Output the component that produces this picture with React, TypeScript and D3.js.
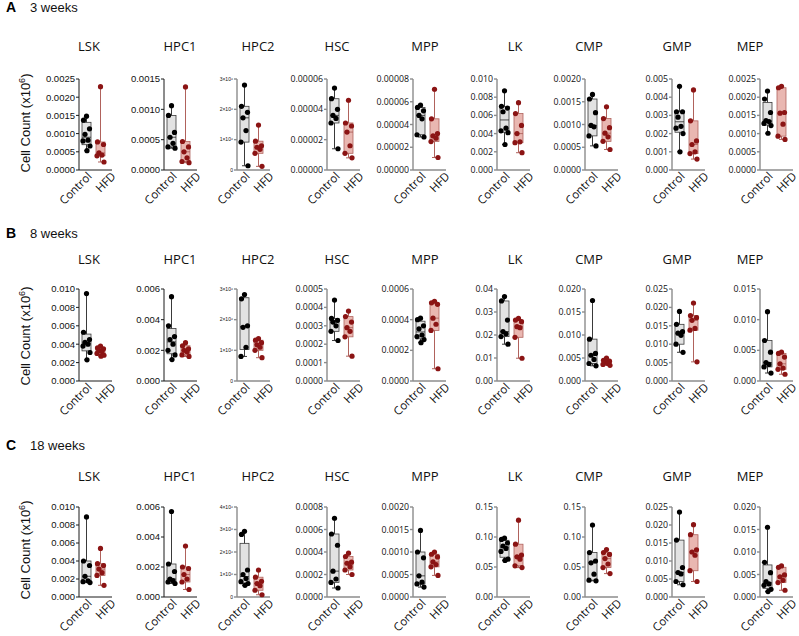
import * as d3 from "d3";

const cellTypes = ["LSK", "HPC1", "HPC2", "HSC", "MPP", "LK", "CMP", "GMP", "MEP"];
const groups = ["Control", "HFD"];
const rowLetters = ["A", "B", "C"];
const rowNames = ["3 weeks", "8 weeks", "18 weeks"];

// y axis max and tick step for every cell type, one list per time point
const yMaxW3 = [0.0025, 0.0015, 3e6, 0.00006, 0.00008, 0.01, 0.002, 0.005, 0.0025];
const yStepW3 = [0.0005, 0.0005, 1e6, 0.00002, 0.00002, 0.002, 0.0005, 0.001, 0.0005];
const yMaxW8 = [0.01, 0.006, 3e6, 0.0005, 0.0006, 0.04, 0.02, 0.025, 0.015];
const yStepW8 = [0.002, 0.002, 1e6, 0.0001, 0.0002, 0.01, 0.005, 0.005, 0.005];
const yMaxW18 = [0.01, 0.006, 4e6, 0.0008, 0.002, 0.15, 0.15, 0.025, 0.02];
const yStepW18 = [0.002, 0.002, 1e6, 0.0002, 0.0005, 0.05, 0.05, 0.005, 0.005];

// cell counts, one list per cell type (same order as cellTypes)
const controlW3 = [
  [0.00148, 0.00137, 0.00113, 0.00098, 0.00082, 0.0008, 0.00066, 0.00053],
  [0.00106, 0.0009, 0.00062, 0.00054, 0.00044, 0.00038, 0.00036],
  [2.8e6, 2.1e6, 1.9e6, 1.72e6, 1.3e6, 0.92e6, 0.14e6],
  [5.4e-5, 4.7e-5, 4.0e-5, 3.6e-5, 3.4e-5, 3.1e-5, 1.4e-5],
  [5.7e-5, 5.5e-5, 5.2e-5, 4.8e-5, 4.5e-5, 3.1e-5, 2.9e-5],
  [0.0087, 0.007, 0.0068, 0.0064, 0.0046, 0.0043, 0.0041, 0.0028],
  [0.00166, 0.00156, 0.00126, 0.00098, 0.00095, 0.00075, 0.00053],
  [0.0046, 0.0032, 0.0032, 0.0029, 0.0024, 0.0023, 0.002, 0.001],
  [0.00217, 0.00195, 0.00158, 0.00136, 0.00133, 0.00128, 0.00122, 0.00101],
];
const hfdW3 = [
  [0.00229, 0.00077, 0.0007, 0.00047, 0.00041, 0.00039, 0.00022],
  [0.00137, 0.00047, 0.00038, 0.0003, 0.0002, 0.00014, 0.00012],
  [1.48e6, 0.95e6, 0.8e6, 0.75e6, 0.68e6, 0.55e6, 0.12e6],
  [4.6e-5, 3.1e-5, 2.9e-5, 2.5e-5, 1.6e-5, 1.1e-5, 0.8e-5],
  [7.1e-5, 4.5e-5, 3.2e-5, 3.0e-5, 2.8e-5, 2.5e-5, 1.1e-5],
  [0.0074, 0.0062, 0.0049, 0.004, 0.0031, 0.003, 0.0019],
  [0.00139, 0.00113, 0.00093, 0.00081, 0.00073, 0.00063, 0.00045],
  [0.0044, 0.0027, 0.0016, 0.0014, 0.001, 0.0009, 0.0006],
  [0.0023, 0.00226, 0.00158, 0.00156, 0.00126, 0.00093, 0.00084],
];
const controlW8 = [
  [0.0095, 0.0053, 0.0045, 0.0042, 0.004, 0.0038, 0.0031, 0.0023],
  [0.0055, 0.0036, 0.0029, 0.0027, 0.0024, 0.002, 0.0017, 0.0014],
  [2.82e6, 2.68e6, 1.8e6, 1.75e6, 1.1e6, 0.8e6],
  [0.00044, 0.00034, 0.00033, 0.00032, 0.0003, 0.00027, 0.00022],
  [0.00041, 0.0004, 0.00036, 0.00034, 0.0003, 0.00029, 0.00027, 0.00025],
  [0.0367, 0.0348, 0.0265, 0.0215, 0.0205, 0.0193, 0.016],
  [0.0175, 0.0091, 0.006, 0.0056, 0.0047, 0.0038, 0.0033],
  [0.0189, 0.0154, 0.0134, 0.013, 0.0124, 0.01, 0.0078],
  [0.0113, 0.0066, 0.0047, 0.003, 0.0027, 0.0023, 0.0013],
];
const hfdW8 = [
  [0.0038, 0.0036, 0.0035, 0.0033, 0.0032, 0.003, 0.0028, 0.0027],
  [0.0025, 0.0023, 0.0021, 0.002, 0.0019, 0.0017, 0.0016],
  [1.38e6, 1.33e6, 1.25e6, 1.18e6, 1.1e6, 1.0e6, 0.76e6],
  [0.00038, 0.00035, 0.00032, 0.00029, 0.00027, 0.00024, 0.000135],
  [0.00052, 0.00051, 0.0005, 0.00041, 0.00037, 0.00033, 0.00008],
  [0.0272, 0.0265, 0.0258, 0.0236, 0.0232, 0.019, 0.0099],
  [0.005, 0.0045, 0.0043, 0.0041, 0.0038, 0.0036, 0.0034],
  [0.0212, 0.0178, 0.0172, 0.0165, 0.0143, 0.0138, 0.0052],
  [0.0047, 0.0045, 0.0039, 0.0028, 0.0021, 0.0019, 0.0011],
];
const controlW18 = [
  [0.0089, 0.004, 0.0035, 0.0023, 0.0018, 0.0017, 0.0016],
  [0.0057, 0.0022, 0.0017, 0.0012, 0.0011, 0.001, 0.0009],
  [2.92e6, 2.78e6, 1.2e6, 1.0e6, 0.82e6, 0.68e6, 0.6e6, 0.52e6],
  [0.0007, 0.00056, 0.00046, 0.00023, 0.00016, 0.00013, 0.00008],
  [0.00148, 0.001, 0.00087, 0.00047, 0.00033, 0.00029, 0.00022],
  [0.098, 0.096, 0.09, 0.085, 0.081, 0.076, 0.063, 0.061],
  [0.12, 0.074, 0.06, 0.057, 0.038, 0.028, 0.027],
  [0.0236, 0.0158, 0.0082, 0.0068, 0.0064, 0.0043, 0.0034],
  [0.0155, 0.0077, 0.0054, 0.0034, 0.0029, 0.0026, 0.0017, 0.0012],
];
const hfdW18 = [
  [0.0054, 0.0037, 0.0035, 0.0031, 0.0027, 0.0024, 0.0013],
  [0.0034, 0.002, 0.0019, 0.0015, 0.0012, 0.001, 0.0005],
  [1.2e6, 0.88e6, 0.7e6, 0.6e6, 0.5e6, 0.3e6, 0.1e6],
  [0.00039, 0.00036, 0.00031, 0.0003, 0.00027, 0.00024, 0.0002],
  [0.001, 0.00095, 0.00089, 0.00078, 0.00072, 0.00067, 0.00048],
  [0.128, 0.088, 0.07, 0.067, 0.063, 0.052, 0.049],
  [0.079, 0.074, 0.071, 0.064, 0.055, 0.049, 0.039],
  [0.0201, 0.0173, 0.0131, 0.0125, 0.0116, 0.0073, 0.0043],
  [0.0069, 0.0066, 0.0049, 0.0045, 0.0037, 0.0032, 0.0015],
];

const rows = [
  { control: controlW3, hfd: hfdW3, yMax: yMaxW3, yStep: yStepW3 },
  { control: controlW8, hfd: hfdW8, yMax: yMaxW8, yStep: yStepW8 },
  { control: controlW18, hfd: hfdW18, yMax: yMaxW18, yStep: yStepW18 },
];

// layout
const width = 799;
const height = 636;
const axisX = [79, 164, 237, 327, 413, 497, 585, 672, 760];
const titleX = [89, 180, 258, 337, 425, 515, 589, 677, 750];
const rowLayout = [
  { labelY: 12, titleY: 51, top: 79, bottom: 170, ylabY: 123 },
  { labelY: 238, titleY: 264, top: 289, bottom: 381, ylabY: 336 },
  { labelY: 450, titleY: 481, top: 507, bottom: 597, ylabY: 550 },
];
const plotW = 33;
const jitter = [0, -3, 3, -1.5, 1.5, -3.5, 3.5, 0.5];
const labelDx = { Control: 6, HFD: 16 };

const sans = "'Open Sans', 'Liberation Sans', sans-serif";
const arial = "'Liberation Sans', Arial, sans-serif";

const colors = {
  Control: { fill: "#e2e2e2", stroke: "#3a3a3a", dot: "#000000" },
  HFD: { fill: "#e9b7b1", stroke: "#b0625c", dot: "#8b1414" },
};

// GraphPad style quartiles
function quantile6(sorted, p) {
  const n = sorted.length;
  const pos = p * (n + 1);
  if (pos <= 1) return sorted[0];
  if (pos >= n) return sorted[n - 1];
  const lo = Math.floor(pos);
  return sorted[lo - 1] + (pos - lo) * (sorted[lo] - sorted[lo - 1]);
}

function tickLabel(v, step) {
  if (step >= 1e5) return v === 0 ? "0" : `${Math.round(v / 1e6)}×10⁶`;
  const dec = Math.max(0, -Math.floor(Math.log10(step) + 1e-9));
  return d3.format(`.${dec}f`)(v);
}

function Panel({ ci, ri }) {
  const row = rows[ri];
  const lay = rowLayout[ri];
  const x0 = axisX[ci];
  const yMax = row.yMax[ci];
  const step = row.yStep[ci];
  const y = d3.scaleLinear([0, yMax], [lay.bottom, lay.top]);
  const x = d3.scalePoint(groups, [x0 + 7.5, x0 + 21.5]);
  const ticks = d3.range(0, yMax + step / 2, step);
  const big = step >= 1e5;
  const gpStyle = ci < 2;
  const axisColor = gpStyle ? "#1a1a1a" : "#8c8c8c";
  const axisWidth = gpStyle ? 1 : 1.4;
  const series = { Control: row.control[ci], HFD: row.hfd[ci] };

  return (
    <g>
      <text x={titleX[ci]} y={lay.titleY} textAnchor="middle" fontFamily={sans} fontSize={13} fill="#111">
        {cellTypes[ci]}
      </text>
      {ticks.map((t) => (
        <g key={t}>
          <line x1={x0 - 3} x2={x0} y1={y(t)} y2={y(t)} stroke={axisColor} strokeWidth={axisWidth} />
          <text
            x={x0 - 4}
            y={y(t)}
            dy="0.35em"
            textAnchor="end"
            fontFamily={ci < 3 ? arial : sans}
            fontSize={big ? 5 : ci < 3 ? 9.5 : 8.8}
            fill="#111"
          >
            {tickLabel(t, step)}
          </text>
        </g>
      ))}
      <line x1={x0} x2={x0} y1={y(yMax)} y2={y(0)} stroke={axisColor} strokeWidth={axisWidth} />
      <line x1={x0} x2={x0 + plotW} y1={y(0)} y2={y(0)} stroke={axisColor} strokeWidth={axisWidth} />
      {groups.map((g) => {
        const vals = series[g];
        const s = [...vals].sort(d3.ascending);
        const q1 = quantile6(s, 0.25);
        const med = quantile6(s, 0.5);
        const q3 = quantile6(s, 0.75);
        const cx = x(g);
        const c = colors[g];
        const bw = 9;
        return (
          <g key={g}>
            <line x1={cx} x2={cx} y1={y(s[0])} y2={y(s[s.length - 1])} stroke={c.stroke} strokeWidth={1} />
            <line x1={cx - 2.5} x2={cx + 2.5} y1={y(s[0])} y2={y(s[0])} stroke={c.stroke} strokeWidth={1} />
            <line x1={cx - 2.5} x2={cx + 2.5} y1={y(s[s.length - 1])} y2={y(s[s.length - 1])} stroke={c.stroke} strokeWidth={1} />
            <rect x={cx - bw / 2} y={y(q3)} width={bw} height={y(q1) - y(q3)} fill={c.fill} stroke={c.stroke} strokeWidth={0.8} />
            <line x1={cx - bw / 2} x2={cx + bw / 2} y1={y(med)} y2={y(med)} stroke={c.stroke} strokeWidth={0.9} />
            {vals.map((v, i) => (
              <circle key={i} cx={cx + jitter[i % jitter.length]} cy={y(v)} r={2.6} fill={c.dot} />
            ))}
            <text
              transform={`translate(${cx + labelDx[g]},${y(0) + 7}) rotate(-45)`}
              textAnchor="end"
              fontFamily={sans}
              fontSize={11.5}
              fill="#111"
            >
              {g}
            </text>
          </g>
        );
      })}
    </g>
  );
}

export default function App() {
  return (
    <svg width={width} height={height} style={{ position: "absolute", left: 0, top: 0, background: "#fff" }}>
      {rowLayout.map((lay, ri) => (
        <g key={ri}>
          <text x={6} y={lay.labelY} fontFamily={arial} fontSize={14} fontWeight="bold" fill="#000">
            {rowLetters[ri]}
          </text>
          <text x={30} y={lay.labelY} fontFamily={arial} fontSize={13} fill="#111">
            {rowNames[ri]}
          </text>
          <text
            transform={`translate(30,${lay.ylabY}) rotate(-90)`}
            textAnchor="middle"
            fontFamily={arial}
            fontSize={13}
            fill="#111"
          >
            Cell Count (x10<tspan dy={-5} fontSize={9}>6</tspan>
            <tspan dy={5}>)</tspan>
          </text>
          {cellTypes.map((ct, ci) => (
            <Panel key={ct} ci={ci} ri={ri} />
          ))}
        </g>
      ))}
    </svg>
  );
}
